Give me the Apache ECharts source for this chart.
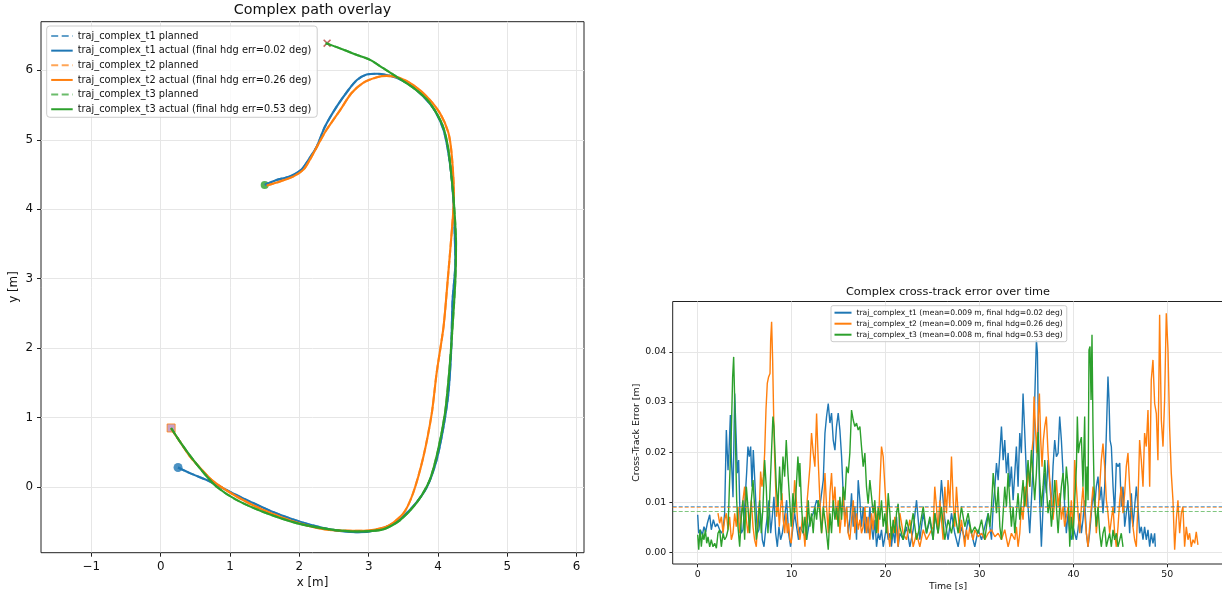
<!DOCTYPE html>
<html><head><meta charset="utf-8">
<script src="https://cdn.jsdelivr.net/npm/echarts@6/dist/echarts.min.js"></script>
<style>html,body{margin:0;padding:0;background:#fff}#c{width:1222px;height:596px}</style>
</head><body><div id="c"></div>
<script>
// ---------------- data ----------------
const trajNames = ['traj_complex_t1', 'traj_complex_t2', 'traj_complex_t3'];
const finalHdgErr = [0.02, 0.26, 0.53];          // deg
const meanErrM = [0.0091, 0.0090, 0.0082];       // m

const pathXTicks = [-1, 0, 1, 2, 3, 4, 5, 6];
const pathYTicks = [0, 1, 2, 3, 4, 5, 6];
const timeTicks = [0, 10, 20, 30, 40, 50];
const errTicks = [0, 0.01, 0.02, 0.03, 0.04];

// x/y paths [m]
const t1Path = [[0.25,0.28],[0.42,0.20],[0.71,0.08],[1.00,-0.07],[1.29,-0.21],[1.62,-0.36],[2.01,-0.50],[2.44,-0.61],[2.83,-0.65],[3.16,-0.61],[3.40,-0.50],[3.64,-0.28],[3.84,0.00],[3.98,0.39],[4.08,0.87],[4.15,1.35],[4.19,1.97],[4.21,2.69],[4.25,3.22],[4.23,3.94],[4.20,4.42],[4.15,4.81],[4.08,5.14],[3.96,5.41],[3.81,5.60],[3.60,5.79],[3.38,5.90],[3.12,5.95],[2.97,5.94],[2.83,5.86],[2.71,5.72],[2.54,5.48],[2.37,5.19],[2.25,4.90],[2.15,4.74],[2.03,4.57],[1.86,4.47],[1.67,4.42],[1.50,4.35]];
const t2Path = [[0.15,0.84],[0.28,0.65],[0.42,0.44],[0.60,0.24],[0.76,0.08],[1.10,-0.14],[1.48,-0.33],[1.96,-0.51],[2.44,-0.62],[2.92,-0.63],[3.26,-0.57],[3.50,-0.38],[3.64,-0.09],[3.79,0.44],[3.91,1.06],[3.98,1.64],[4.08,2.31],[4.14,2.98],[4.20,3.70],[4.23,4.18],[4.20,4.76],[4.15,5.10],[4.03,5.38],[3.84,5.62],[3.64,5.79],[3.45,5.89],[3.26,5.92],[3.12,5.90],[2.92,5.82],[2.75,5.67],[2.59,5.43],[2.39,5.14],[2.27,4.93],[2.15,4.71],[2.06,4.57],[1.91,4.47],[1.72,4.40],[1.53,4.34]];
const t3Path = [[0.15,0.85],[0.30,0.62],[0.47,0.39],[0.64,0.18],[0.81,0.00],[1.10,-0.19],[1.48,-0.36],[1.96,-0.52],[2.44,-0.61],[2.83,-0.64],[3.21,-0.61],[3.45,-0.48],[3.69,-0.23],[3.88,0.10],[4.00,0.53],[4.10,1.06],[4.16,1.64],[4.21,2.31],[4.25,2.98],[4.26,3.51],[4.23,4.09],[4.20,4.42],[4.15,4.86],[4.08,5.17],[3.98,5.38],[3.84,5.58],[3.64,5.75],[3.40,5.91],[3.21,6.03],[3.02,6.15],[2.83,6.22],[2.63,6.30],[2.44,6.37],[2.38,6.39]];

const t1Start = [0.25, 0.28];
const t23Start = [0.15, 0.85];
const t12End = [1.50, 4.35];
const t3End = [2.40, 6.39];

// cross-track error vs time: time [s], error [mm]
const t1Time = [0.00,0.11,0.28,0.50,0.67,0.85,1.03,1.28,1.45,1.67,1.88,2.09,2.34,2.52,2.70,2.87,3.05,3.23,3.33,3.48,3.58,3.76,3.94,4.08,4.22,4.36,4.50,4.65,4.82,5.00,5.21,5.35,5.50,5.64,5.78,5.92,6.06,6.21,6.35,6.52,6.70,6.88,7.06,7.23,7.41,7.59,7.77,7.94,8.12,8.30,8.48,8.65,8.83,9.01,9.26,9.47,9.68,9.89,10.11,10.32,10.53,10.74,
10.88,11.24,11.59,11.95,12.30,12.66,13.01,13.37,13.55,13.72,13.90,14.08,14.25,14.43,14.61,14.78,14.96,15.14,15.32,15.49,15.67,15.85,16.03,16.20,16.38,16.56,16.73,16.91,17.09,17.27,17.44,17.62,17.80,17.97,18.15,18.33,18.51,18.68,18.86,19.04,19.22,19.39,19.57,19.75,19.93,20.10,20.28,20.46,20.63,20.81,20.99,21.17,21.34,21.52,21.88,22.23,22.59,22.94,23.30,23.48,23.65,24.01,24.36,24.72,25.07,
25.24,25.60,25.95,26.31,26.66,27.02,27.37,27.73,28.08,28.44,28.79,29.15,29.50,29.86,30.22,30.57,30.93,31.28,31.46,31.64,31.81,31.99,32.17,32.34,32.52,32.69,32.87,33.05,33.22,33.40,33.58,33.76,33.93,34.11,34.29,34.46,34.64,34.82,34.99,35.17,35.35,35.53,35.70,35.88,36.06,36.17,36.27,36.41,36.59,36.77,36.95,37.12,37.30,37.48,37.66,37.83,38.01,38.19,38.37,38.54,38.72,38.90,39.07,39.25,39.43,
39.61,39.78,39.96,40.14,40.32,40.49,40.67,40.85,41.02,41.20,41.38,41.56,41.73,41.91,42.09,42.27,42.44,42.62,42.80,42.97,43.15,43.33,43.51,43.68,43.79,43.90,44.04,44.22,44.39,44.57,44.75,44.93,45.10,45.28,45.46,45.63,45.81,45.99,46.17,46.34,46.52,46.70,46.88,47.05,47.23,47.41,47.58,47.76,47.94,48.12,48.29,48.47,48.65,48.72];
const t1ErrMm = [7.5,3.8,4.5,3.5,5.1,4.1,5.8,7.5,4.5,6.5,5.1,5.7,4.5,3.8,4.5,7.8,24.4,16.4,19.8,27.4,19.0,11.0,31.7,23.8,15.8,18.4,7.8,3.8,4.5,9.1,15.8,21.1,19.1,21.1,13.1,20.4,15.1,9.1,3.8,4.5,7.8,2.5,1.1,4.5,7.1,10.4,3.8,7.1,11.1,3.8,1.1,5.1,2.5,3.8,7.1,10.4,3.8,1.1,4.5,7.8,5.1,2.5,
5.1,3.8,2.5,6.5,7.8,10.4,9.1,14.4,23.8,27.1,29.7,25.8,27.8,22.4,20.4,25.1,27.8,24.4,19.1,11.8,6.5,9.1,3.8,6.5,11.8,5.1,9.1,2.5,14.4,10.4,5.1,9.1,3.8,7.1,3.8,9.1,5.1,2.5,6.5,1.1,3.8,2.5,4.5,1.1,3.1,5.1,2.5,3.8,1.1,4.5,1.8,7.1,1.1,3.8,2.5,5.1,1.1,4.5,10.4,6.5,2.5,7.8,3.8,6.5,2.5,
7.8,3.8,14.4,6.5,2.5,7.8,3.8,1.1,5.1,2.5,6.5,3.8,1.1,4.5,2.5,5.1,7.8,2.5,9.1,13.1,17.8,14.4,19.8,25.1,18.4,22.4,15.8,19.8,13.1,17.1,10.4,15.8,21.1,13.1,23.8,19.8,31.7,23.8,15.8,9.1,3.8,10.4,17.1,30.4,42.4,39.7,25.1,10.4,1.1,9.1,15.8,11.8,18.4,13.8,9.1,17.1,22.4,19.1,19.8,27.1,22.4,15.8,9.1,3.8,7.8,
3.8,2.5,5.1,3.8,2.5,4.5,7.8,3.8,6.5,10.4,3.8,1.1,3.8,7.8,11.8,9.1,13.1,15.1,10.4,13.1,7.8,13.1,23.8,35.1,30.4,22.4,21.1,13.1,7.8,17.8,17.1,17.8,9.1,13.1,5.1,7.8,10.4,3.8,11.8,5.1,9.1,13.1,9.1,3.8,5.1,2.5,5.1,2.5,4.5,1.1,3.8,1.8,3.8,1.1];

const t2Time = [2.16,2.34,2.52,2.70,2.87,3.05,3.23,3.40,3.58,3.76,3.94,4.11,4.29,4.47,4.65,4.82,5.00,5.18,5.35,5.53,5.71,5.89,6.06,6.24,6.42,6.60,6.70,6.84,6.99,7.13,7.27,7.41,7.55,7.70,7.77,7.87,7.98,8.09,8.19,8.30,8.40,8.55,8.69,8.83,8.97,9.11,9.26,9.40,9.54,9.68,9.82,9.96,10.14,10.32,10.50,10.67,
10.88,11.17,11.42,11.66,11.95,12.12,12.30,12.48,12.66,12.83,13.01,13.19,13.37,13.55,13.72,13.90,14.08,14.25,14.43,14.61,14.78,14.96,15.14,15.32,15.49,15.67,15.85,16.03,16.20,16.38,16.56,16.73,16.91,17.09,17.27,17.44,17.62,17.80,17.97,18.15,18.33,18.51,18.68,18.86,19.04,19.22,19.39,19.57,19.75,19.93,20.10,20.28,20.46,20.63,20.81,20.99,21.17,21.34,21.52,21.88,22.23,22.59,22.94,23.30,23.65,24.01,24.36,24.72,25.07,
25.24,25.42,25.60,25.78,25.95,26.13,26.31,26.49,26.66,26.84,27.02,27.20,27.37,27.55,27.73,27.90,28.08,28.26,28.44,28.61,28.79,28.97,29.15,29.32,29.50,29.86,30.22,30.57,30.93,31.28,31.64,31.99,32.34,32.69,33.05,33.40,33.76,33.93,34.11,34.29,34.46,34.64,34.82,34.99,35.17,35.35,35.53,35.70,35.81,35.95,36.09,36.24,36.38,36.52,36.66,36.80,36.95,37.12,37.30,37.48,37.66,37.83,38.01,38.19,38.37,38.54,38.72,38.90,39.07,39.43,
39.61,39.78,39.96,40.14,40.32,40.49,40.67,40.85,41.02,41.20,41.38,41.56,41.73,41.91,42.09,42.27,42.44,42.62,42.80,42.97,43.15,43.33,43.51,43.68,43.86,44.04,44.22,44.39,44.57,44.75,44.93,45.10,45.28,45.46,45.63,45.81,45.99,46.17,46.34,46.52,46.70,46.88,47.05,47.23,47.41,47.58,47.76,47.94,48.12,48.29,48.47,48.65,48.83,49.00,49.18,49.36,49.54,49.71,49.89,50.07,50.24,50.42,50.60,50.78,50.96,51.13,51.31,51.49,51.66,51.84,52.02,52.20,52.37,52.55,52.73,52.91,53.08,53.26];
const t2ErrMm = [7.8,5.8,7.1,3.8,6.5,7.8,4.5,7.1,2.5,3.8,7.8,5.1,9.1,3.8,7.8,10.4,13.1,6.5,3.8,7.1,10.4,5.1,2.5,1.1,7.1,10.4,16.1,13.1,15.1,19.8,28.4,33.7,35.0,35.7,42.4,46.0,38.4,27.1,19.1,13.1,7.1,10.4,5.1,9.1,11.8,6.5,3.8,7.8,3.8,5.8,2.5,1.8,7.1,14.4,10.4,5.1,
2.5,7.1,1.1,10.4,17.1,23.8,19.8,17.1,27.7,18.4,10.4,3.8,7.8,15.8,9.1,3.8,11.8,15.8,9.1,13.1,6.5,10.4,3.8,7.8,11.8,5.1,9.1,3.8,2.5,6.5,10.4,3.8,7.8,4.5,6.5,3.8,5.1,9.1,3.8,7.1,2.5,7.8,4.5,9.1,7.1,3.8,13.1,21.1,19.1,13.1,7.8,3.8,1.1,5.1,3.8,7.1,4.5,1.1,7.8,3.8,2.5,6.5,1.1,3.8,1.1,4.5,2.5,3.8,5.1,
13.1,9.1,3.8,10.4,6.5,2.5,13.1,7.8,14.4,9.1,19.1,10.4,5.1,13.1,7.8,3.8,6.5,3.8,1.1,4.5,2.5,5.1,3.8,2.5,4.5,3.1,3.8,2.5,3.8,4.5,3.1,3.8,2.5,4.5,1.1,3.8,2.5,5.1,1.1,3.8,9.1,6.5,13.1,9.1,17.1,13.1,19.1,22.4,31.1,25.1,19.8,26.4,31.7,22.4,17.1,22.4,25.1,27.1,19.8,14.4,10.4,6.5,10.4,14.4,9.1,11.8,6.5,9.1,5.1,9.1,
5.1,10.4,3.8,18.4,13.1,7.8,3.8,9.1,13.1,7.8,3.8,1.1,5.1,9.1,13.1,10.4,3.8,7.8,13.1,18.4,21.7,17.1,10.4,7.8,3.8,6.5,9.1,3.8,1.1,5.1,10.4,13.1,7.8,11.8,17.1,19.8,13.1,7.8,5.1,2.5,1.1,10.4,22.4,18.4,13.1,23.8,21.1,28.4,13.1,34.4,38.4,29.7,27.7,18.4,47.4,26.4,21.1,30.4,47.7,40.4,25.1,15.8,10.4,0.5,6.5,10.4,3.8,7.8,9.1,1.1,5.1,2.5,3.8,1.1,2.5,1.8,4.1,1.5];

const t3Time = [0.00,0.11,0.25,0.39,0.53,0.67,0.82,0.96,1.10,1.28,1.45,1.63,1.81,1.99,2.16,2.34,2.52,2.70,2.87,3.05,3.23,3.40,3.58,3.72,3.83,3.94,4.04,4.15,4.29,4.47,4.65,4.82,5.00,5.18,5.35,5.53,5.71,5.89,6.06,6.24,6.42,6.60,6.77,6.95,7.13,7.30,7.48,7.66,7.84,8.01,8.12,8.23,8.37,8.55,8.72,8.90,9.08,9.26,9.43,9.61,9.79,9.96,10.14,10.32,10.50,10.67,10.85,
10.88,11.06,11.24,11.42,11.59,11.77,11.95,12.12,12.30,12.48,12.66,12.83,13.01,13.19,13.37,13.55,13.72,13.90,14.08,14.25,14.43,14.61,14.78,14.96,15.14,15.32,15.49,15.67,15.85,16.03,16.20,16.38,16.56,16.73,16.91,17.09,17.27,17.44,17.62,17.80,17.97,18.15,18.33,18.51,18.68,18.86,19.04,19.22,19.39,19.57,19.75,19.93,20.10,20.28,20.46,20.63,20.81,20.99,21.17,21.34,21.52,21.88,22.23,22.59,22.94,23.30,23.65,24.01,24.36,24.72,25.07,
25.24,25.60,25.95,26.31,26.66,27.02,27.37,27.73,28.08,28.44,28.79,29.15,29.50,29.86,30.22,30.57,30.93,31.11,31.28,31.46,31.64,31.81,31.99,32.17,32.34,32.52,32.69,32.87,33.05,33.22,33.40,33.58,33.76,33.93,34.11,34.29,34.46,34.64,34.82,34.99,35.17,35.35,35.53,35.70,35.88,36.06,36.24,36.41,36.59,36.77,36.95,37.12,37.30,37.48,37.66,37.83,38.01,38.19,38.37,38.54,38.72,38.90,39.07,39.25,39.43,
39.61,39.78,39.96,40.14,40.32,40.42,40.53,40.67,40.85,41.02,41.20,41.31,41.45,41.56,41.66,41.77,41.88,41.98,42.09,42.20,42.30,42.44,42.62,42.80,42.97,43.15,43.33,43.51,43.68,43.86,44.04,44.22,44.39,44.57,44.75,44.93,45.10,45.28];
const t3ErrMm = [3.5,0.5,4.5,1.1,3.8,2.5,4.5,1.8,3.1,1.1,2.5,1.1,1.8,0.8,3.8,4.5,1.1,3.8,2.5,3.1,4.5,14.4,23.8,35.0,39.0,30.4,20.4,10.4,5.1,1.1,7.1,10.4,2.5,13.1,9.1,3.8,10.4,14.4,9.1,2.5,5.1,10.4,3.8,9.1,18.4,13.1,3.8,10.4,19.1,27.1,25.1,19.8,13.1,9.1,17.1,10.4,19.1,15.1,22.4,15.8,10.4,5.1,11.8,7.8,13.1,19.1,13.1,
17.8,9.1,3.8,7.1,2.5,10.4,5.1,7.8,3.8,9.1,6.5,10.4,7.8,3.8,9.1,6.5,3.8,0.5,7.8,3.8,10.4,6.5,9.1,5.1,11.1,6.5,13.1,10.4,17.1,15.8,19.8,28.4,26.4,25.1,25.8,24.4,25.1,21.1,17.1,19.8,13.1,9.7,14.4,11.1,7.8,10.4,3.8,9.1,6.5,10.4,5.1,7.8,3.8,11.8,7.8,2.5,6.5,3.8,7.8,9.7,5.1,2.5,6.5,3.8,7.8,2.5,5.1,9.1,3.8,7.1,2.5,
7.8,3.8,9.1,2.5,6.5,3.8,7.8,3.8,9.1,5.1,7.8,3.8,5.1,3.8,6.5,2.5,7.8,5.1,9.1,15.8,11.8,7.8,13.1,5.1,2.5,7.8,13.1,9.1,15.8,10.4,5.1,9.1,3.8,7.8,11.8,6.5,10.4,14.4,9.1,13.1,18.4,13.1,20.4,15.8,10.4,15.8,24.0,14.4,9.1,13.1,18.4,13.1,7.8,10.4,5.1,9.1,14.4,9.1,3.8,9.1,13.1,15.8,10.4,17.1,13.1,
1.1,7.1,2.5,10.4,17.1,27.1,19.8,21.7,23.0,13.1,27.1,9.1,17.1,10.4,40.4,41.1,30.4,43.4,23.8,13.1,9.1,5.1,9.1,3.8,1.1,3.8,5.1,1.1,2.5,3.8,1.1,4.5,2.5,3.8,1.1,2.5,3.8,1.1];

// ---------------- chart ----------------
const FONT = 'DejaVu Sans';
const TXT = '#111';
const GRIDC = '#e6e6e6';
const COLORS = ['#1f77b4', '#ff7f0e', '#2ca02c'];
const paths = [t1Path, t2Path, t3Path];
const times = [t1Time, t2Time, t3Time];
const errs = [t1ErrMm, t2ErrMm, t3ErrMm];
const minus = v => String(v).replace('-', '\u2212');

function axisParts(ticks, fmt, fontSize, tickLen, margin) {
  return {
    axisLine: { show: false, onZero: false },
    axisTick: { show: true, length: tickLen, lineStyle: { color: '#222', width: 1 }, customValues: ticks },
    axisLabel: { customValues: ticks, formatter: fmt, fontSize: fontSize, fontFamily: FONT, color: TXT, margin: margin },
    splitLine: { show: true, lineStyle: { color: GRIDC, width: 1 } }
  };
}

const series = [];
const leftLegend = [];
const rightLegend = [];
trajNames.forEach((n, i) => {
  const pName = n + ' planned';
  const aName = n + ' actual (final hdg err=' + finalHdgErr[i].toFixed(2) + ' deg)';
  leftLegend.push(pName, aName);
  series.push({
    type: 'line', name: pName, xAxisIndex: 0, yAxisIndex: 0, data: paths[i],
    symbol: 'none', smooth: 0.25, animation: false,
    lineStyle: { color: COLORS[i], width: 2.1, type: [7, 3.5], opacity: 0.7 },
    itemStyle: { color: COLORS[i], opacity: 0.7 }
  });
  series.push({
    type: 'line', name: aName, xAxisIndex: 0, yAxisIndex: 0, data: paths[i],
    symbol: 'none', smooth: 0.25, animation: false,
    lineStyle: { color: COLORS[i], width: 2.1 },
    itemStyle: { color: COLORS[i] }
  });
});

// start / end markers
series.push({
  type: 'scatter', xAxisIndex: 0, yAxisIndex: 0, animation: false, silent: true, z: 1,
  data: [
    { value: t23Start, symbol: 'rect', symbolSize: 8, itemStyle: { color: '#b98ab8', borderColor: '#ff7f0e', borderWidth: 1 } },
    { value: t12End, symbol: 'circle', symbolSize: 8, itemStyle: { color: '#2ca02c' } },
    { value: t3End, symbol: 'path://M0,1.4L1.4,0L5,3.6L8.6,0L10,1.4L6.4,5L10,8.6L8.6,10L5,6.4L1.4,10L0,8.6L3.6,5Z', symbolSize: 8, itemStyle: { color: '#b5413a' } }
  ]
});
series.push({
  type: 'scatter', xAxisIndex: 0, yAxisIndex: 0, animation: false, silent: true, z: 4,
  data: [{ value: t1Start, symbol: 'circle', symbolSize: 9, itemStyle: { color: '#1f77b4' } }]
});

trajNames.forEach((n, i) => {
  const name = n + ' (mean=' + meanErrM[i].toFixed(3) + ' m, final hdg=' + finalHdgErr[i].toFixed(2) + ' deg)';
  rightLegend.push(name);
  series.push({
    type: 'line', name: name, xAxisIndex: 1, yAxisIndex: 1,
    data: times[i].map((t, k) => [t, errs[i][k] / 1000]),
    symbol: 'none', animation: false,
    lineStyle: { color: COLORS[i], width: 1.4 }, itemStyle: { color: COLORS[i] },
    markLine: {
      silent: true, symbol: 'none', animation: false, precision: 5, label: { show: false },
      lineStyle: { color: COLORS[i], type: [4, 2], width: 1, opacity: 0.6 },
      data: [{ yAxis: meanErrM[i] }]
    }
  });
});

const option = {
  animation: false,
  backgroundColor: '#fff',
  grid: [
    { left: 41, top: 21.7, width: 543, height: 531, show: true, borderColor: '#222', borderWidth: 1, containLabel: false, outerBoundsMode: 'none' },
    { left: 672.7, top: 301.5, width: 550.8, height: 262.5, show: true, borderColor: '#222', borderWidth: 1, containLabel: false, outerBoundsMode: 'none' }
  ],
  xAxis: [
    Object.assign({ type: 'value', gridIndex: 0, min: -1.727, max: 6.106 }, axisParts(pathXTicks, minus, 11.9, 4, 8)),
    Object.assign({ type: 'value', gridIndex: 1, min: -2.66, max: 55.98 }, axisParts(timeTicks, v => String(v), 9.4, 3.3, 6.5))
  ],
  yAxis: [
    Object.assign({ type: 'value', gridIndex: 0, min: -0.946, max: 6.70 }, axisParts(pathYTicks, minus, 11.9, 4, 8)),
    Object.assign({ type: 'value', gridIndex: 1, min: -0.002335, max: 0.05006 }, axisParts(errTicks, v => v.toFixed(2), 9.4, 3.3, 6.5))
  ],
  legend: [
    {
      data: leftLegend, orient: 'vertical', left: 46.7, top: 26,
      itemWidth: 21.5, itemHeight: 12, itemGap: 2.65, padding: [4, 6, 2, 3.5],
      backgroundColor: 'rgba(255,255,255,0.8)', borderColor: '#cccccc', borderWidth: 1, borderRadius: 3,
      itemStyle: { opacity: 0 },
      textStyle: { fontFamily: FONT, fontSize: 9.8, color: TXT, lineHeight: 12 },
      selectedMode: false
    },
    {
      data: rightLegend, orient: 'vertical', left: 831, top: 305.7,
      itemWidth: 17, itemHeight: 9, itemGap: 2, padding: [2.5, 4, 2.5, 2.5],
      backgroundColor: 'rgba(255,255,255,0.8)', borderColor: '#cccccc', borderWidth: 1, borderRadius: 2,
      itemStyle: { opacity: 0 },
      textStyle: { fontFamily: FONT, fontSize: 7.6, color: TXT, lineHeight: 9 },
      selectedMode: false
    }
  ],
  graphic: [
    { type: 'text', x: 312.5, y: 10.5, silent: true, style: { text: 'Complex path overlay', fontFamily: FONT, fontSize: 14.3, fill: TXT, align: 'center', verticalAlign: 'middle' } },
    { type: 'text', x: 312.5, y: 583, silent: true, style: { text: 'x [m]', fontFamily: FONT, fontSize: 11.9, fill: TXT, align: 'center', verticalAlign: 'middle' } },
    { type: 'text', x: 14, y: 287, rotation: Math.PI / 2, silent: true, style: { text: 'y [m]', fontFamily: FONT, fontSize: 11.9, fill: TXT, align: 'center', verticalAlign: 'middle' } },
    { type: 'text', x: 948, y: 291.7, silent: true, style: { text: 'Complex cross-track error over time', fontFamily: FONT, fontSize: 11.3, fill: TXT, align: 'center', verticalAlign: 'middle' } },
    { type: 'text', x: 948, y: 587, silent: true, style: { text: 'Time [s]', fontFamily: FONT, fontSize: 9.4, fill: TXT, align: 'center', verticalAlign: 'middle' } },
    { type: 'text', x: 636.5, y: 432.7, rotation: Math.PI / 2, silent: true, style: { text: 'Cross-Track Error [m]', fontFamily: FONT, fontSize: 9.4, fill: TXT, align: 'center', verticalAlign: 'middle' } }
  ],
  series: series
};

const chart = echarts.init(document.getElementById('c'), null, { renderer: 'canvas' });
chart.setOption(option);
</script>
</body></html>
